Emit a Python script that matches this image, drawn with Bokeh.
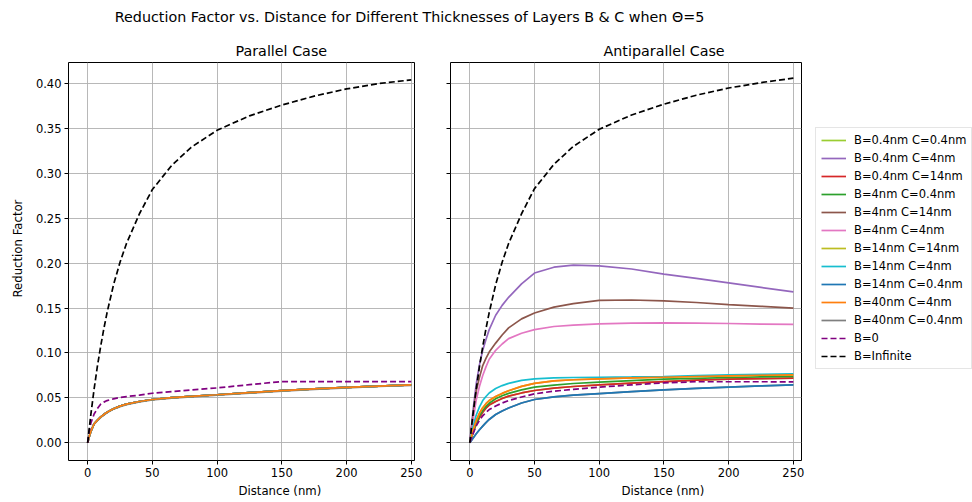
from bokeh.plotting import figure
from bokeh.layouts import column, row
from bokeh.models import (Legend, LegendItem, FixedTicker, NumeralTickFormatter,
                          CustomJSTickFormatter, Range1d, Title)
from bokeh.embed import file_html
from bokeh.resources import INLINE
from bokeh.core.properties import value

FONT = "DejaVu Sans"

# Distance samples (nm)
distance = [0, 1, 2.5, 5, 7.5, 10, 12.5, 15, 20, 25, 30, 40, 50, 65, 80, 100, 125, 150, 175, 200, 225, 250]

# ---- Parallel case ----
par_layers = [0, 0.006, 0.013, 0.021, 0.025, 0.0285, 0.0315, 0.034, 0.038, 0.0408, 0.043, 0.046,
              0.0482, 0.0502, 0.0517, 0.0535, 0.0558, 0.058, 0.060, 0.0617, 0.0632, 0.0645]
par_gray = [0, 0.006, 0.013, 0.0207, 0.0246, 0.028, 0.031, 0.0335, 0.0375, 0.0403, 0.0425, 0.0455,
            0.0477, 0.0497, 0.0512, 0.053, 0.0553, 0.0575, 0.0595, 0.0612, 0.0627, 0.064]
par_b0 = [0, 0.012, 0.022, 0.032, 0.038, 0.043, 0.0453, 0.047, 0.049, 0.0504, 0.0515, 0.053,
          0.0552, 0.057, 0.0588, 0.0611, 0.0647, 0.0682, 0.0682, 0.0682, 0.0682, 0.0682]
par_inf = [0, 0.013, 0.032, 0.060, 0.085, 0.107, 0.127, 0.145, 0.176, 0.201, 0.222, 0.255,
           0.282, 0.309, 0.329, 0.348, 0.364, 0.376, 0.386, 0.394, 0.400, 0.404]

# ---- Antiparallel case ----
anti = {
    "B=0.4nm C=0.4nm": [0, 0.005, 0.011, 0.021, 0.028, 0.034, 0.0385, 0.042, 0.046, 0.0493, 0.052, 0.0555,
                        0.0582, 0.0608, 0.0627, 0.0645, 0.0665, 0.0682, 0.0697, 0.0708, 0.0715, 0.072],
    "B=0.4nm C=4nm": [0, 0.015, 0.036, 0.066, 0.087, 0.103, 0.115, 0.126, 0.142, 0.153, 0.162, 0.177,
                      0.189, 0.1955, 0.1978, 0.197, 0.1935, 0.1877, 0.183, 0.178, 0.173, 0.168],
    "B=0.4nm C=14nm": [0, 0.005, 0.011, 0.021, 0.028, 0.034, 0.0385, 0.042, 0.046, 0.0493, 0.052, 0.0555,
                       0.0582, 0.0608, 0.0627, 0.0645, 0.0665, 0.0682, 0.0697, 0.0708, 0.0715, 0.072],
    "B=4nm C=0.4nm": [0, 0.005, 0.012, 0.022, 0.030, 0.036, 0.0405, 0.044, 0.049, 0.0523, 0.055, 0.059,
                      0.0619, 0.0643, 0.066, 0.0675, 0.0693, 0.0708, 0.0718, 0.0727, 0.0733, 0.0738],
    "B=4nm C=14nm": [0, 0.012, 0.030, 0.058, 0.073, 0.086, 0.094, 0.101, 0.111, 0.120, 0.128, 0.138,
                     0.1445, 0.151, 0.155, 0.1585, 0.159, 0.158, 0.1562, 0.1538, 0.152, 0.150],
    "B=4nm C=4nm": [0, 0.010, 0.025, 0.048, 0.063, 0.075, 0.0845, 0.093, 0.103, 0.110, 0.116, 0.122,
                    0.126, 0.1295, 0.131, 0.1323, 0.1333, 0.1335, 0.1333, 0.1328, 0.1322, 0.1318],
    "B=14nm C=14nm": [0, 0.006, 0.014, 0.025, 0.033, 0.039, 0.0435, 0.047, 0.0515, 0.055, 0.058, 0.0628,
                      0.0662, 0.069, 0.0702, 0.0712, 0.0722, 0.073, 0.0738, 0.0746, 0.0752, 0.0757],
    "B=14nm C=4nm": [0, 0.008, 0.018, 0.031, 0.040, 0.047, 0.0515, 0.0555, 0.0605, 0.0637, 0.0662, 0.0695,
                     0.0712, 0.0722, 0.0727, 0.073, 0.0733, 0.0738, 0.0747, 0.0757, 0.0763, 0.0768],
    "B=14nm C=0.4nm": [0, 0.002, 0.005, 0.010, 0.0145, 0.0185, 0.0225, 0.026, 0.0315, 0.0355, 0.0388, 0.0443,
                       0.0482, 0.0512, 0.053, 0.0548, 0.057, 0.059, 0.0607, 0.062, 0.0633, 0.0645],
    "B=40nm C=4nm": [0, 0.006, 0.014, 0.025, 0.033, 0.039, 0.0435, 0.047, 0.0515, 0.055, 0.058, 0.0628,
                     0.0662, 0.069, 0.0702, 0.0712, 0.0722, 0.073, 0.0738, 0.0746, 0.0752, 0.0757],
    "B=40nm C=0.4nm": [0, 0.002, 0.005, 0.010, 0.0145, 0.0185, 0.0225, 0.026, 0.0315, 0.0355, 0.0388, 0.0443,
                       0.0482, 0.0512, 0.053, 0.0548, 0.057, 0.059, 0.0607, 0.062, 0.0633, 0.0645],
}
anti_b0 = [0, 0.004, 0.010, 0.019, 0.025, 0.030, 0.0337, 0.037, 0.041, 0.0443, 0.047, 0.051,
           0.0545, 0.0575, 0.0595, 0.062, 0.0645, 0.0667, 0.068, 0.068, 0.068, 0.0678]
anti_inf = [0, 0.013, 0.032, 0.060, 0.085, 0.107, 0.127, 0.145, 0.176, 0.201, 0.222, 0.255,
            0.283, 0.310, 0.330, 0.349, 0.365, 0.377, 0.387, 0.395, 0.401, 0.406]

labels = list(anti.keys())
colors = ["#9acd32", "#9467bd", "#d62728", "#2ca02c", "#8c564b", "#e377c2",
          "#bcbd22", "#17becf", "#1f77b4", "#ff7f0e", "#7f7f7f"]
# series that sit underneath the others are drawn first
draw_order = [10, 0, 1, 2, 3, 4, 5, 6, 7, 8, 9]

x_ticks = [0, 50, 100, 150, 200, 250]
y_ticks = [0, 0.05, 0.10, 0.15, 0.20, 0.25, 0.30, 0.35, 0.40]
Y_RANGE = (-0.0197, 0.4234)
LW = 1.7
DASH = "6 3"
TICK_PX = "11.5px"
LABEL_PX = "11.7px"
TITLE_PX = "14.3px"


def style(p):
    p.outline_line_color = "black"
    p.outline_line_width = 1
    p.grid.grid_line_color = "#b0b0b0"
    p.grid.grid_line_width = 0.9
    p.xaxis.ticker = FixedTicker(ticks=x_ticks)
    p.yaxis.ticker = FixedTicker(ticks=y_ticks)
    for ax in p.axis:
        ax.axis_line_color = None
        ax.major_tick_out = 4
        ax.major_tick_in = 0
        ax.minor_tick_out = 0
        ax.minor_tick_in = 0
        ax.major_tick_line_color = "black"
        ax.major_label_text_font = FONT
        ax.major_label_text_font_size = TICK_PX
        ax.major_label_text_color = "black"
        ax.major_label_standoff = 3


def add_title(p, text, offset, side, size, standoff, valign):
    t = Title(text=text, align="left", offset=offset, standoff=standoff,
              vertical_align=valign, text_font=FONT, text_font_size=size,
              text_font_style="normal", text_color="black")
    p.add_layout(t, side)


# Figure-wide heading
head = figure(width=972, height=32, x_range=Range1d(0, 972), y_range=Range1d(0, 32),
              x_axis_type=None, y_axis_type=None, toolbar_location=None,
              output_backend="svg", min_border=0, outline_line_color=None)
head.text(x=[409], y=[16],
          text=["Reduction Factor vs. Distance for Different Thicknesses of Layers B & C when \u0398=5"],
          text_align="center", text_baseline="middle", text_font=value(FONT),
          text_font_size=TITLE_PX, text_color="black")

# Parallel panel
p1 = figure(frame_width=346, frame_height=398, x_range=Range1d(-14.8, 252.5),
            y_range=Range1d(*Y_RANGE), min_border_left=68, min_border_right=18,
            min_border_top=30, min_border_bottom=42,
            toolbar_location=None, output_backend="svg")
style(p1)
p1.yaxis.formatter = NumeralTickFormatter(format="0.00")
add_title(p1, "Parallel Case", 167, "above", TITLE_PX, 8, "bottom")
add_title(p1, "Distance (nm)", 170, "below", LABEL_PX, 8, "top")
add_title(p1, "Reduction Factor", 163, "left", LABEL_PX, 12, "top")
for i in draw_order:
    ys = par_gray if labels[i] == "B=40nm C=0.4nm" else par_layers
    p1.line(distance, ys, line_color=colors[i], line_width=LW)
p1.line(distance, par_b0, line_color="purple", line_width=LW, line_dash=DASH)
p1.line(distance, par_inf, line_color="black", line_width=LW, line_dash=DASH)

# Antiparallel panel
p2 = figure(frame_width=351, frame_height=398, x_range=Range1d(-14.9, 256.3),
            y_range=Range1d(*Y_RANGE), min_border_left=18, min_border_right=171,
            min_border_top=30, min_border_bottom=42,
            toolbar_location=None, output_backend="svg")
style(p2)
p2.yaxis.formatter = CustomJSTickFormatter(code="return ''")
add_title(p2, "Antiparallel Case", 153, "above", TITLE_PX, 8, "bottom")
add_title(p2, "Distance (nm)", 171, "below", LABEL_PX, 8, "top")
rends = {}
for i in draw_order:
    rends[i] = p2.line(distance, anti[labels[i]], line_color=colors[i], line_width=LW)
items = [LegendItem(label=labels[i], renderers=[rends[i]]) for i in range(len(labels))]
r = p2.line(distance, anti_b0, line_color="purple", line_width=LW, line_dash=DASH)
items.append(LegendItem(label="B=0", renderers=[r]))
r = p2.line(distance, anti_inf, line_color="black", line_width=LW, line_dash=DASH)
items.append(LegendItem(label="B=Infinite", renderers=[r]))

legend = Legend(items=items, location=(14, 91), orientation="vertical",
                label_text_font=FONT, label_text_font_size="11.5px", label_text_color="black",
                glyph_width=25, glyph_height=14, label_height=14, spacing=4,
                padding=5, margin=0, label_standoff=8,
                border_line_color="#cccccc", border_line_width=1,
                background_fill_color="white", background_fill_alpha=0.8)
p2.add_layout(legend, "right")

layout = column(head, row(p1, p2))
open("out.html", "w").write(file_html(layout, INLINE))
